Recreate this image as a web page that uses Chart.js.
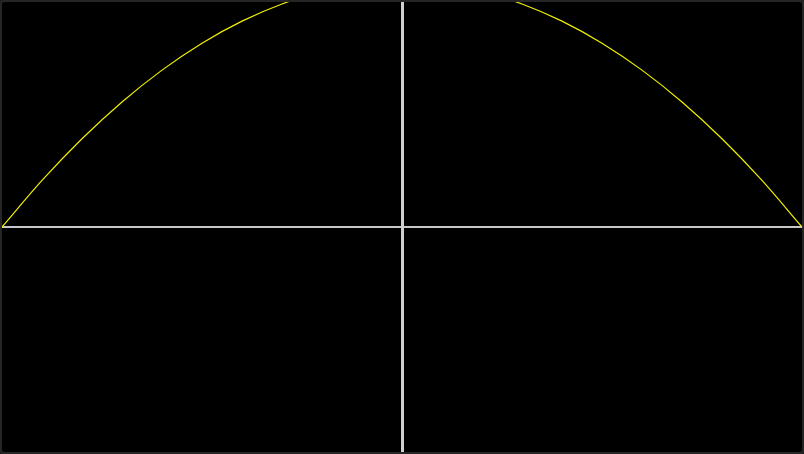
<!DOCTYPE html>
<html>
<head>
<meta charset="utf-8">
<script src="https://cdn.jsdelivr.net/npm/chart.js@4"></script>
<style>
  html, body { margin: 0; padding: 0; background: #1c1c1c; }
  #wrap {
    width: 800px; height: 450px;
    border: 2px solid #262626;
    border-radius: 4px;
    background: #000;
    overflow: hidden;
  }
</style>
</head>
<body>
<div id="wrap"><canvas id="chart"></canvas></div>
<script>
/***********************
 * DATA
 ***********************/
const xValues = [-1, -0.9, -0.8, -0.7, -0.6, -0.5, -0.4, -0.3, -0.2, -0.1, 0,
                 0.1, 0.2, 0.3, 0.4, 0.5, 0.6, 0.7, 0.8, 0.9, 1];
const yValues = [0, 0.19, 0.36, 0.51, 0.64, 0.75, 0.84, 0.91, 0.96, 0.99, 1,
                 0.99, 0.96, 0.91, 0.84, 0.75, 0.64, 0.51, 0.36, 0.19, 0];
const xRange = [-1, 1];
const yRange = [-0.918, 0.918];

/***********************
 * CHART
 ***********************/
const points = xValues.map((x, i) => ({ x, y: yValues[i] }));

new Chart(document.getElementById("chart"), {
  type: "scatter",
  data: {
    datasets: [{
      data: points,
      showLine: true,
      borderColor: "#f0f000",
      borderWidth: 1.2,
      pointRadius: 0,
      cubicInterpolationMode: "monotone",
    }],
  },
  options: {
    responsive: true,
    maintainAspectRatio: false,
    animation: false,
    layout: { padding: 0 },
    plugins: { legend: { display: false }, tooltip: { enabled: false } },
    scales: {
      x: {
        type: "linear",
        min: xRange[0], max: xRange[1],
        position: { y: 0 },
        ticks: { display: false },
        grid: { display: false },
        border: { display: true, color: "#c8c8c8", width: 2 },
      },
      y: {
        type: "linear",
        min: yRange[0], max: yRange[1],
        position: { x: 0 },
        ticks: { display: false },
        grid: { display: false },
        border: { display: true, color: "#d0d0d0", width: 3 },
      },
    },
  },
});
</script>
</body>
</html>
